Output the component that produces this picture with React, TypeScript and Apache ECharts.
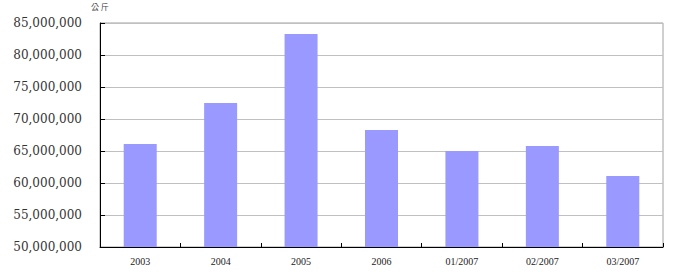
import React, { useEffect, useRef } from "react";
import * as echarts from "echarts";

const categories = ["2003", "2004", "2005", "2006", "01/2007", "02/2007", "03/2007"];
const values = [66100000, 72500000, 83300000, 68300000, 65000000, 65800000, 61100000];
const unitLabel = "公 斤";

export default function App() {
  const ref = useRef<HTMLDivElement>(null);
  useEffect(() => {
    if (!ref.current) return;
    const chart = echarts.init(ref.current, undefined, { renderer: "svg" });
    chart.setOption({
      animation: false,
      backgroundColor: "#ffffff",
      grid: {
        left: 100,
        right: 15,
        top: 23,
        bottom: 25,
        show: true,
        borderColor: "#a0a0a0",
        borderWidth: 1,
      },
      graphic: [
        {
          type: "text",
          left: 91,
          top: 2,
          style: {
            text: unitLabel,
            font: "8px 'Noto Sans CJK TC'",
            fill: "#444444",
          },
        },
      ],
      xAxis: {
        type: "category",
        data: categories,
        axisLine: { lineStyle: { color: "#000000", width: 1 } },
        axisTick: { show: true, inside: true, length: 4, lineStyle: { color: "#000000" } },
        axisLabel: {
          fontFamily: "'Liberation Serif'",
          fontSize: 10,
          color: "#222222",
          margin: 9,
        },
        splitLine: { show: false },
      },
      yAxis: {
        type: "value",
        min: 50000000,
        max: 85000000,
        interval: 5000000,
        axisLine: { show: true, lineStyle: { color: "#000000", width: 1 } },
        axisTick: { show: true, inside: true, length: 5, lineStyle: { color: "#000000" } },
        axisLabel: {
          fontFamily: "'DejaVu Serif'",
          fontSize: 12,
          color: "#333333",
          margin: 18,
          formatter: (v: number) => v.toLocaleString("en-US"),
        },
        splitLine: { show: true, lineStyle: { color: "#c0c0c0", width: 1 } },
      },
      series: [
        {
          type: "bar",
          data: values,
          barWidth: 33,
          itemStyle: { color: "#9999ff" },
        },
      ],
    });
    return () => chart.dispose();
  }, []);
  return (
    <div
      ref={ref}
      style={{ position: "fixed", left: 0, top: 0, width: 678, height: 272 }}
    />
  );
}
